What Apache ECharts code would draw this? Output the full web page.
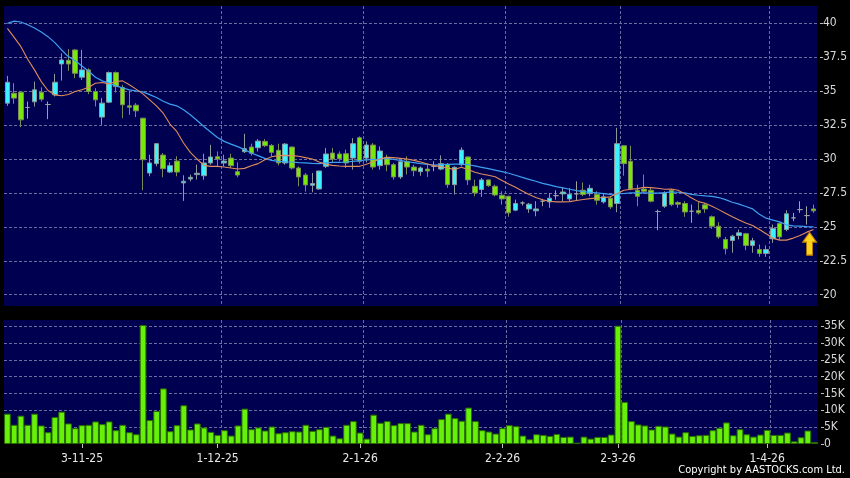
<!DOCTYPE html>
<html><head><meta charset="utf-8">
<script src="https://cdn.jsdelivr.net/npm/echarts@6/dist/echarts.min.js"></script>
<style>html,body{margin:0;padding:0;background:#000;}#c{width:850px;height:478px;}</style>
</head><body><div id="c"></div>
<script>
const tickIndex = [12, 32, 53, 74, 91, 113];
const tickLabels = ['3-11-25', '1-12-25', '2-1-26', '2-2-26', '2-3-26', '1-4-26'];
const priceTicks = [20, 22.5, 25, 27.5, 30, 32.5, 35, 37.5, 40];
const volTicks = [0, 5, 10, 15, 20, 25, 30, 35];

const opens = [34.12,34.85,34.93,33.80,34.22,34.93,34.02,34.73,37.01,37.28,
38.04,36.03,36.57,34.98,33.09,34.19,36.37,35.27,33.92,33.97,
33.01,28.97,29.66,30.29,29.04,29.85,28.24,28.53,28.85,28.77,
29.71,30.17,29.71,30.07,29.07,30.54,30.88,30.83,31.30,31.00,
30.64,29.71,30.88,29.34,28.82,28.06,27.79,29.46,30.44,30.37,
30.39,30.07,31.57,30.07,31.03,29.51,30.12,29.58,28.68,29.83,
29.41,29.07,29.26,29.46,29.26,29.61,28.11,29.58,30.15,27.99,
27.75,28.46,27.99,27.33,27.25,26.23,26.76,26.32,26.18,26.89,
26.84,27.30,27.43,27.06,27.43,27.70,27.45,27.38,26.84,27.11,
26.72,30.98,29.83,27.70,27.79,27.70,26.13,26.52,27.70,26.79,
26.72,26.15,26.20,26.62,25.74,25.05,24.07,23.99,24.36,24.49,
23.63,23.33,23.04,24.12,25.25,24.80,25.66,26.27,25.83,26.32];
const closes = [35.66,34.49,32.89,33.80,35.10,34.41,34.02,35.66,37.30,37.01,
36.32,36.57,34.98,34.36,34.12,36.37,35.34,34.00,33.82,33.55,
29.95,29.71,31.13,29.29,29.51,29.04,28.36,28.65,28.95,29.71,
30.15,30.00,29.85,29.51,28.82,30.76,30.42,31.32,30.98,30.49,
29.71,31.10,29.34,28.68,28.09,28.19,29.12,30.37,30.00,30.02,
29.71,31.13,29.83,31.03,29.41,30.59,29.58,28.68,29.80,29.41,
29.14,29.34,29.12,29.46,29.66,28.11,29.39,30.66,28.46,27.50,
28.46,28.04,27.35,27.06,26.03,26.72,26.76,26.67,26.32,26.89,
27.11,27.30,27.57,27.40,27.43,27.38,27.84,26.96,27.21,26.47,
31.13,29.66,27.79,27.25,27.62,26.89,26.13,27.50,26.64,26.67,
26.10,26.15,26.03,26.32,25.05,24.26,23.38,24.31,24.56,23.63,
23.97,23.04,23.33,24.88,24.26,25.96,25.66,26.27,25.83,26.18];
const lows = [33.92,34.07,32.35,32.97,33.87,34.24,32.94,34.61,35.78,36.50,
35.96,35.83,34.78,33.87,32.52,34.12,34.90,33.01,33.26,33.09,
27.70,28.73,29.46,28.65,28.97,28.73,26.91,28.36,28.48,28.48,
29.58,29.46,29.46,29.34,28.65,30.44,30.25,30.56,30.88,30.20,
29.53,29.58,29.22,27.99,27.60,27.55,27.75,29.34,29.71,29.83,
29.34,29.22,29.66,29.75,29.22,29.22,29.10,28.48,28.53,28.85,
28.73,28.77,28.68,29.10,29.17,27.87,27.38,29.46,28.09,27.25,
27.21,27.94,27.25,26.64,25.74,26.15,26.57,26.03,25.78,26.52,
26.40,27.01,26.89,26.89,26.96,27.25,27.25,26.64,26.72,26.32,
26.08,28.77,27.70,26.52,27.45,26.81,24.75,26.40,26.52,26.40,
25.74,25.29,25.91,26.03,24.85,24.12,22.97,23.09,24.07,23.28,
23.09,22.79,22.79,23.82,24.02,24.68,25.42,26.03,25.17,26.03];
const highs = [36.13,35.59,34.97,34.24,35.71,35.29,34.24,36.27,37.79,38.09,
38.09,38.04,36.69,35.22,34.49,36.45,36.45,35.47,35.05,34.12,
33.01,30.32,31.18,30.44,29.75,30.20,28.80,28.85,29.58,30.39,
31.05,30.56,30.32,30.39,29.75,31.86,31.13,31.47,31.47,31.10,
31.13,31.18,30.93,29.46,28.97,28.97,29.12,30.81,30.81,30.56,
30.69,31.54,31.67,31.30,31.18,30.93,30.32,29.71,29.90,30.20,
29.58,29.46,29.66,29.83,30.27,29.71,29.46,30.86,30.20,28.48,
28.60,28.48,28.11,27.62,27.30,27.01,26.89,26.76,26.89,27.06,
27.50,27.70,27.94,27.87,28.36,28.28,28.11,27.62,27.50,27.25,
32.30,31.00,30.98,28.11,28.85,27.87,26.27,27.62,27.79,26.89,
26.89,26.64,26.81,26.76,25.83,25.34,24.26,24.41,24.80,24.56,
24.19,23.70,23.63,25.17,25.34,26.23,26.03,26.89,26.52,26.64];
const volumeK = [9.0,5.7,8.4,5.7,9.0,5.5,3.5,8.0,9.6,6.1,
4.7,5.6,5.7,6.7,5.9,6.7,4.1,5.7,3.5,2.9,
35.3,7.1,9.8,16.5,3.8,5.6,11.5,4.3,6.1,4.9,
3.6,2.7,4.1,2.5,5.5,10.5,4.4,4.9,4.0,5.2,
3.2,3.5,3.8,3.7,5.7,3.9,4.4,5.1,2.5,1.7,
5.7,6.8,3.4,1.6,8.7,6.3,6.8,5.6,6.2,6.2,
3.7,5.7,2.9,4.7,7.4,9.0,7.7,6.9,10.8,6.8,
4.1,3.7,3.1,4.7,5.6,5.3,2.5,1.4,2.9,2.7,
2.4,3.0,2.1,2.2,0.4,2.2,1.6,2.1,2.1,2.8,
35.1,12.5,6.8,5.8,5.5,4.3,5.4,5.2,3.1,2.2,
3.5,2.4,2.6,2.7,4.1,4.8,6.4,2.6,4.4,2.9,
2.2,2.8,4.2,2.7,2.7,3.4,0.8,2.0,4.0,0.6];
const maBlue = [40.00,40.17,40.10,39.90,39.66,39.36,39.02,38.58,38.04,37.55,
37.25,36.86,36.47,36.03,35.76,35.59,35.39,35.25,35.10,35.02,
34.95,34.75,34.53,34.26,34.05,33.92,33.63,33.26,32.84,32.40,
31.99,31.59,31.30,31.10,30.91,30.69,30.44,30.25,30.05,29.90,
29.83,29.80,29.78,29.73,29.71,29.68,29.66,29.71,29.75,29.75,
29.78,29.83,29.88,29.93,29.98,30.00,30.05,29.98,29.90,29.80,
29.73,29.66,29.61,29.56,29.58,29.61,29.63,29.63,29.58,29.49,
29.39,29.29,29.18,29.07,28.95,28.80,28.65,28.50,28.36,28.21,
28.09,27.97,27.87,27.77,27.67,27.60,27.55,27.50,27.45,27.40,
27.42,27.46,27.50,27.50,27.50,27.49,27.49,27.52,27.57,27.55,
27.50,27.40,27.33,27.28,27.25,27.16,27.01,26.81,26.67,26.50,
26.32,25.93,25.64,25.49,25.37,25.15,25.07,25.05,25.02,25.00];
const maOrange = [39.63,38.97,38.28,37.35,36.57,35.71,35.05,34.73,34.66,34.75,
34.98,35.10,35.29,35.59,35.64,35.54,35.71,35.76,35.47,35.15,
34.80,34.36,33.92,33.38,32.58,32.03,31.18,30.49,30.00,29.53,
29.46,29.46,29.41,29.34,29.26,29.31,29.51,29.66,29.95,30.17,
30.25,30.27,30.25,30.20,30.10,30.00,29.78,29.61,29.53,29.49,
29.46,29.46,29.46,29.61,29.80,30.00,30.12,30.10,30.05,30.00,
29.90,29.78,29.63,29.51,29.44,29.34,29.22,29.39,29.22,29.02,
28.90,28.80,28.69,28.41,28.16,27.92,27.65,27.38,27.16,26.99,
26.89,26.84,26.84,26.86,26.94,27.01,27.08,27.13,27.16,27.21,
27.45,27.70,27.77,27.82,27.92,27.89,27.84,27.77,27.79,27.70,
27.43,27.13,26.86,26.74,26.52,26.27,26.00,25.74,25.51,25.29,
25.10,24.80,24.49,24.17,24.02,24.02,24.17,24.36,24.61,24.80];
const arrowAt = { index: 119, price: 23.76 };

const FONT = "'Liberation Sans Narrow', 'DejaVu Sans Condensed', 'Arial Narrow', sans-serif";
const GRIDC = '#6c6c9e';
const cats = opens.map((_, i) => String(i));
const isTick = (i) => tickIndex.indexOf(i) >= 0;
// date ticks/labels in the reference sit just left of the grid line (on the previous slot)
const isLabelSlot = (i) => tickIndex.indexOf(i + 1) >= 0;
const candleData = opens.map((o, i) => {
  const v = [o, closes[i], lows[i], highs[i]];
  if (o === closes[i]) return { value: v, itemStyle: { color: '#a0a0a0', color0: '#a0a0a0', borderColor: '#a0a0a0', borderColor0: '#a0a0a0' } };
  return v;
});
const vsplit = { show: true, interval: (i) => isTick(i), showMaxLine: false, showMinLine: false, lineStyle: { color: GRIDC, type: [3, 2], width: 1 } };

const chart = echarts.init(document.getElementById('c'), null, { renderer: 'canvas' });
chart.setOption({
  animation: false,
  backgroundColor: '#000000',
  grid: [
    { left: 4, top: 6, width: 814, height: 300, show: true, backgroundColor: '#000050', borderWidth: 0 },
    { left: 4, top: 320, width: 814, height: 124, show: true, backgroundColor: '#000050', borderWidth: 0 }
  ],
  xAxis: [
    { type: 'category', gridIndex: 0, data: cats, boundaryGap: true,
      axisLine: { show: false }, axisTick: { show: false }, axisLabel: { show: false }, splitLine: vsplit },
    { type: 'category', gridIndex: 1, data: cats, boundaryGap: true,
      axisLine: { show: false },
      axisTick: { show: true, alignWithLabel: true, interval: (i) => isLabelSlot(i), length: 4, lineStyle: { color: '#c0c0c0' } },
      axisLabel: { show: true, interval: (i) => isLabelSlot(i), margin: 9, color: '#e8e8e8', fontFamily: FONT, fontSize: 12,
        formatter: (v) => { const k = tickIndex.indexOf(Number(v) + 1); return k >= 0 ? tickLabels[k] : ''; } },
      splitLine: { show: false } },
    { type: 'category', gridIndex: 1, data: cats, boundaryGap: true, show: true,
      axisLine: { show: false }, axisTick: { show: false }, axisLabel: { show: false }, splitLine: vsplit }
  ],
  yAxis: [
    { type: 'value', gridIndex: 0, position: 'right', min: 19.165, max: 41.28, offset: 3, scale: true,
      axisLine: { show: false },
      axisTick: { show: true, customValues: priceTicks, length: 3, lineStyle: { color: '#c0c0c0' } },
      axisLabel: { show: true, customValues: priceTicks, margin: 3, color: '#d8d8d8', fontFamily: FONT, fontSize: 12 },
      splitLine: { show: false } },
    { type: 'value', gridIndex: 1, position: 'right', min: 0, max: 36.8, offset: 3,
      axisLine: { show: false },
      axisTick: { show: true, customValues: volTicks, length: 3, lineStyle: { color: '#c0c0c0' } },
      axisLabel: { show: true, customValues: volTicks, margin: 3, color: '#d8d8d8', fontFamily: FONT, fontSize: 12,
        formatter: (v) => v === 0 ? '0' : v + 'K' },
      splitLine: { show: false } }
  ],
  series: [
    { type: 'candlestick', xAxisIndex: 0, yAxisIndex: 0, data: candleData, barWidth: 5,
      itemStyle: { color: '#3cf2ff', color0: '#78e80a', borderColor: '#8a9a9a', borderColor0: '#7c8c58', borderWidth: 1 },
      markLine: { silent: true, z: 1, symbol: ['none', 'none'], label: { show: false },
        lineStyle: { color: GRIDC, type: [3, 2], width: 1 }, emphasis: { disabled: true },
        data: priceTicks.map(v => ({ yAxis: v })) },
      markPoint: { silent: true, z: 6,
        symbol: 'path://M7,0 L14,10 L10,10 L10,23 L4,23 L4,10 L0,10 Z', symbolSize: [14, 23], symbolOffset: [-4, 0],
        itemStyle: { color: '#ffd21a', borderColor: '#b87800', borderWidth: 1 }, label: { show: false },
        data: [{ coord: [arrowAt.index, arrowAt.price] }] } },
    { type: 'line', xAxisIndex: 0, yAxisIndex: 0, data: maBlue, showSymbol: false, silent: true, z: 3,
      lineStyle: { color: '#3d9ff0', width: 1.2 } },
    { type: 'line', xAxisIndex: 0, yAxisIndex: 0, data: maOrange, showSymbol: false, silent: true, z: 3,
      lineStyle: { color: '#e08c5a', width: 1.1 } },
    { type: 'bar', xAxisIndex: 1, yAxisIndex: 1, data: volumeK, barCategoryGap: '1%',
      itemStyle: { color: '#66f00a', borderColor: '#2a6c00', borderWidth: 1 },
      markLine: { silent: true, z: 1, symbol: ['none', 'none'], label: { show: false },
        lineStyle: { color: GRIDC, type: [3, 2], width: 1 }, emphasis: { disabled: true },
        data: volTicks.filter(v => v > 0).map(v => ({ yAxis: v })) } }
  ],
  graphic: [
    { type: 'text', right: 5, top: 465, silent: true,
      style: { text: 'Copyright by AASTOCKS.com Ltd.', fill: '#ffffff', font: '11px ' + FONT } }
  ]
});
</script>
</body></html>
